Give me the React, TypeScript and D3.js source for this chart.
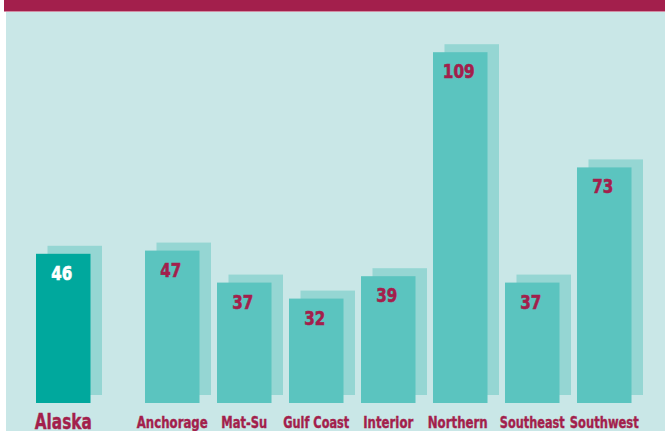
import React from "react";
import * as d3 from "d3";

const totalLabel = "Alaska";
const totalValue = 46;
const regions = ["Anchorage", "Mat-Su", "Gulf Coast", "Interior", "Northern", "Southeast", "Southwest"];
const regionValues = [47, 37, 32, 39, 109, 37, 73];

const W = 665;
const H = 431;
const MAROON = "#a31f4c";
const BG = "#c9e7e7";
const FRONT = "#5bc4bf";
const SHADOW = "#95d6d3";
const TOTAL = "#00a89d";
const FONT = "'DejaVu Sans Condensed', 'DejaVu Sans', sans-serif";

// rendered widths of the condensed labels (layout only)
const labelWidth: Record<string, number> = {
  Alaska: 57,
  Anchorage: 71,
  "Mat-Su": 46,
  "Gulf Coast": 66,
  Interior: 50,
  Northern: 60,
  Southeast: 65,
  Southwest: 69,
};

export default function App() {
  const y = d3.scaleLinear().domain([0, 120]).range([401, 17]);
  const xr = d3.scaleBand<string>().domain(regions).range([145, 631.5]).paddingInner(0.243).paddingOuter(0);
  const xa = d3.scaleBand<string>().domain([totalLabel]).range([36, 90.5]).padding(0);
  const dx = 11.5;
  const dy = -8;
  const bottom = y(0) + 2;

  const bars = [
    { name: totalLabel, value: totalValue, x: xa(totalLabel)!, w: xa.bandwidth(), total: true },
    ...regions.map((r, i) => ({ name: r, value: regionValues[i], x: xr(r)!, w: xr.bandwidth(), total: false })),
  ];

  return (
    <>
      <style>{`body{margin:0}`}</style>
      <svg width={W} height={H} style={{ display: "block" }}>
        <rect x={0} y={0} width={W} height={H} fill="#ffffff" />
        <rect x={6} y={12} width={W - 6} height={H - 12} fill={BG} />
        <rect x={4} y={0} width={W - 4} height={11.5} fill={MAROON} />
        {bars.map((b) => {
          const vs = String(b.value);
          const vc = b.total ? "#ffffff" : MAROON;
          return (
            <g key={b.name}>
              <rect x={b.x + dx} y={y(b.value) + dy} width={b.w} height={bottom - y(b.value)} fill={SHADOW} />
              <rect x={b.x} y={y(b.value)} width={b.w} height={bottom - y(b.value)} fill={b.total ? TOTAL : FRONT} />
              <text
                x={b.x + b.w / 2 - 1.5}
                y={y(b.value) + 26}
                textAnchor="middle"
                fontFamily={FONT}
                fontWeight="bold"
                fontSize={20}
                textLength={vs.length === 3 ? 32 : 21}
                lengthAdjust="spacingAndGlyphs"
                fill={vc}
                stroke={vc}
                strokeWidth={0.6}
              >
                {vs}
              </text>
              <text
                x={b.x + b.w / 2 + (b.name === "Northern" ? -2.5 : 0)}
                y={b.total ? 429 : 428}
                textAnchor="middle"
                fontFamily={FONT}
                fontWeight="bold"
                fontSize={b.total ? 20.5 : 16.5}
                textLength={labelWidth[b.name]}
                lengthAdjust="spacingAndGlyphs"
                fill={MAROON}
                stroke={MAROON}
                strokeWidth={0.4}
              >
                {b.name}
              </text>
            </g>
          );
        })}
      </svg>
    </>
  );
}
